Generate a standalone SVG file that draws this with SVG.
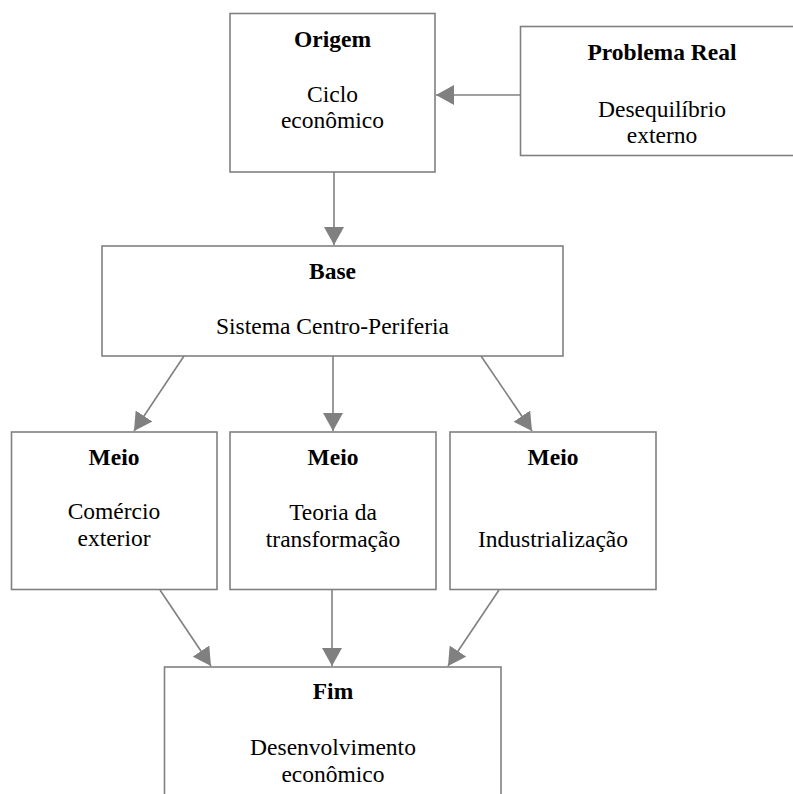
<svg xmlns="http://www.w3.org/2000/svg" width="793" height="794" viewBox="0 0 793 794">
<style>
.box{fill:#fff;stroke:#808080;stroke-width:1.6}
.t{font-family:"Liberation Serif","Times New Roman",serif;font-size:23.5px;fill:#000;text-anchor:middle}
.b{font-weight:bold}
.c{stroke:#808080;stroke-width:1.6;fill:none;marker-end:url(#ah)}
</style>
<defs>
<marker id="ah" markerUnits="userSpaceOnUse" markerWidth="19" markerHeight="20" refX="18" refY="10" orient="auto" viewBox="0 0 19 20">
<path d="M0,0 L18,10 L0,20 z" fill="#808080"/>
</marker>
</defs>
<rect width="793" height="794" fill="#fff"/>
<g id="connectors">
<line class="c" x1="520" y1="95" x2="436" y2="95"/>
<line class="c" x1="334" y1="172" x2="334" y2="245"/>
<line class="c" x1="184" y1="356" x2="134" y2="431"/>
<line class="c" x1="333" y1="356" x2="333" y2="431"/>
<line class="c" x1="481" y1="356" x2="532" y2="431"/>
<line class="c" x1="160" y1="590" x2="211" y2="666"/>
<line class="c" x1="332" y1="590" x2="332" y2="666"/>
<line class="c" x1="499" y1="590" x2="448" y2="666"/>
</g>
<g id="origem">
<rect class="box" x="230" y="13.5" width="205" height="158.5"/>
<text class="t b" x="332.5" y="47">Origem</text>
<text class="t" x="332.5" y="102">Ciclo</text>
<text class="t" x="332.5" y="128">econômico</text>
</g>
<g id="problema">
<rect class="box" x="520.5" y="26.5" width="285" height="129"/>
<text class="t b" x="662" y="60">Problema Real</text>
<text class="t" x="662" y="117">Desequilíbrio</text>
<text class="t" x="662" y="143">externo</text>
</g>
<g id="base">
<rect class="box" x="102" y="246" width="461" height="110"/>
<text class="t b" x="332.5" y="279">Base</text>
<text class="t" x="332.5" y="334">Sistema Centro-Periferia</text>
</g>
<g id="meio1">
<rect class="box" x="11.5" y="432" width="205.5" height="157.5"/>
<text class="t b" x="114" y="465">Meio</text>
<text class="t" x="114" y="519">Comércio</text>
<text class="t" x="114" y="546">exterior</text>
</g>
<g id="meio2">
<rect class="box" x="230" y="432" width="206" height="157.5"/>
<text class="t b" x="333" y="465">Meio</text>
<text class="t" x="333" y="520">Teoria da</text>
<text class="t" x="333" y="547">transformação</text>
</g>
<g id="meio3">
<rect class="box" x="450" y="432" width="206" height="157.5"/>
<text class="t b" x="553" y="465">Meio</text>
<text class="t" x="553" y="547">Industrialização</text>
</g>
<g id="fim">
<rect class="box" x="164.5" y="667" width="336.5" height="140"/>
<text class="t b" x="333" y="699">Fim</text>
<text class="t" x="333" y="755">Desenvolvimento</text>
<text class="t" x="333" y="782">econômico</text>
</g>
</svg>
